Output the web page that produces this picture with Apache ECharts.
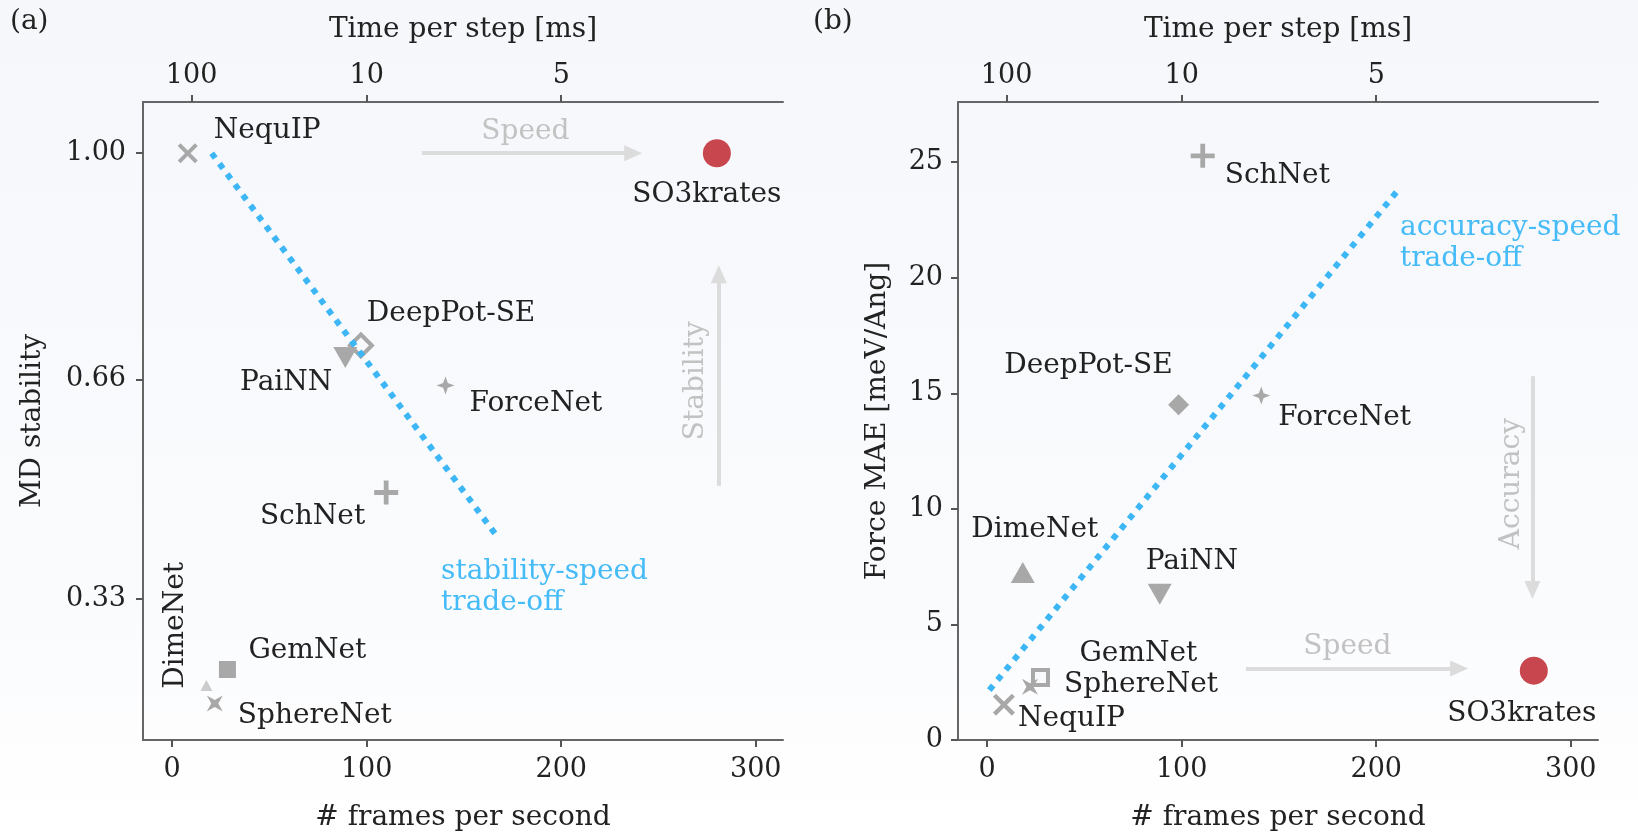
<!DOCTYPE html>
<html><head><meta charset="utf-8">
<script src="https://cdn.jsdelivr.net/npm/echarts@6/dist/echarts.min.js"></script>
<style>html,body{margin:0;padding:0;background:#fff}#c{width:1638px;height:839px}</style>
</head><body><div id="c"></div>
<script>
// ---------------- data ----------------
const models = ['NequIP','SO3krates','DeepPot-SE','PaiNN','ForceNet','SchNet','GemNet','DimeNet','SphereNet'];
// panel (a)
const fpsA = [8, 280, 97, 89, 140.5, 110, 28.4, 17.6, 21.9];
const mdStability = [1.00, 1.00, 0.711, 0.693, 0.651, 0.49, 0.224, 0.20, 0.173];
// panel (b)
const fpsB = [8.6, 281, 98.4, 88.7, 140.9, 110.8, 27.4, 18.3, 22.0];
const forceMAE = [1.53, 3.0, 14.5, 6.3, 14.9, 25.27, 2.7, 7.25, 2.3];
// ticks
const fpsTicks = [0, 100, 200, 300];
const timeTickFps = [10, 100, 200];
const timeTickLabels = ['100', '10', '5'];
const stabilityTicks = [0.33, 0.66, 1.00];
const maeTicks = [0, 5, 10, 15, 20, 25];
// trade-off lines
const tradeoffA = [[20.3, 1.0], [167.8, 0.421]];
const tradeoffB = [[1.1, 2.16], [211.3, 23.8]];
// annotation arrows (data coords)
const speedArrowA = [[128.4, 1.0], [237, 1.0]];
const stabilityArrow = [[281, 0.50], [281, 0.818]];
const speedArrowB = [[133, 3.09], [242.6, 3.09]];
const accuracyArrow = [[280.3, 15.74], [280.3, 6.49]];
// annotation text anchors (data coords)
const speedTextA = [181.6, 1.0325];
const stabilityText = [269.2, 0.658];
const tradeTextA = [138.2, 0.347];
const speedTextB = [185.2, 4.04];
const accuracyText = [269.6, 11.09];
const tradeTextB = [212.2, 21.47];

// ---------------- style ----------------
const FONT = 'DejaVu Serif';
const FS = 28;
const TXT = '#222';
const GRAY = '#a8a8a8';
const BLUE = '#3db6f6';
const ARROW = '#dcdcdc';
const ARROW_TXT = '#c2c2c2';
const symX = 'path://M14,0 L50,36 L86,0 L100,14 L64,50 L100,86 L86,100 L50,64 L14,100 L0,86 L36,50 L0,14 Z';
const symPlus = 'path://M40,0 H60 V40 H100 V60 H60 V100 H40 V60 H0 V40 H40 Z';
const symStar4 = 'path://M50,0 L63,37 L100,50 L63,63 L50,100 L37,63 L0,50 L37,37 Z';
const symStarX = 'path://M0,0 L50,28 L100,0 L72,50 L100,100 L50,72 L0,100 L28,50 Z';
const symTriDown = 'path://M0,0 L100,0 L50,86 Z';

const markerA = {
  'NequIP': {symbol: symX, size: 20},
  'SO3krates': {symbol: 'circle', size: 28, color: '#c8464d'},
  'DeepPot-SE': {symbol: 'diamond', size: 22, hollow: true},
  'PaiNN': {symbol: symTriDown, size: [24, 21]},
  'ForceNet': {symbol: symStar4, size: 18},
  'SchNet': {symbol: symPlus, size: 24},
  'GemNet': {symbol: 'rect', size: 17},
  'DimeNet': {symbol: 'triangle', size: [12, 11], color: '#cccccc'},
  'SphereNet': {symbol: symStarX, size: 16}
};
const markerB = {
  'NequIP': {symbol: symX, size: 22},
  'SO3krates': {symbol: 'circle', size: 28, color: '#c8464d'},
  'DeepPot-SE': {symbol: 'diamond', size: 21},
  'PaiNN': {symbol: symTriDown, size: [24, 21]},
  'ForceNet': {symbol: symStar4, size: 18},
  'SchNet': {symbol: symPlus, size: 24},
  'GemNet': {symbol: 'rect', size: 15, hollow: true},
  'DimeNet': {symbol: 'triangle', size: [24, 21]},
  'SphereNet': {symbol: symStarX, size: 16}
};
const labelA = {
  'NequIP': {align: 'left', offset: [26, -23]},
  'SO3krates': {align: 'center', offset: [-10, 41]},
  'DeepPot-SE': {align: 'left', offset: [6, -32]},
  'PaiNN': {align: 'right', offset: [-13, 25]},
  'ForceNet': {align: 'left', offset: [24, 18]},
  'SchNet': {align: 'right', offset: [-21, 24]},
  'GemNet': {align: 'left', offset: [21, -19]},
  // offset of a rotated label is given in the label's rotated frame
  'DimeNet': {align: 'center', offset: [60, -31], rotate: 90},
  'SphereNet': {align: 'left', offset: [23, 12]}
};
const labelB = {
  'NequIP': {align: 'left', offset: [14, 14]},
  'SO3krates': {align: 'center', offset: [-12, 43]},
  'DeepPot-SE': {align: 'right', offset: [-6, -39]},
  'PaiNN': {align: 'left', offset: [-14, -33]},
  'ForceNet': {align: 'left', offset: [17, 22]},
  'SchNet': {align: 'left', offset: [22, 20]},
  'GemNet': {align: 'left', offset: [39, -24]},
  'DimeNet': {align: 'center', offset: [12, -43]},
  'SphereNet': {align: 'left', offset: [34, -2]}
};

function textStyle(extra) {
  return Object.assign({fontFamily: FONT, fontSize: FS, color: TXT}, extra || {});
}

function pointsSeries(gi, xs, ys, markers, labels) {
  const data = models.map((m, i) => {
    const mk = markers[m], lb = labels[m];
    const itemStyle = mk.hollow
      ? {color: 'rgba(248,249,252,1)', borderColor: GRAY, borderWidth: 4, opacity: 1}
      : {color: mk.color || GRAY, borderWidth: 0, opacity: 1};
    return {
      name: m,
      value: [xs[i], ys[i]],
      symbol: mk.symbol,
      symbolSize: mk.size,
      itemStyle: itemStyle,
      label: Object.assign({
        show: true, position: 'inside', formatter: m, opacity: 1,
        verticalAlign: 'middle', textBorderWidth: 0
      }, textStyle(), lb)
    };
  });
  return {type: 'scatter', xAxisIndex: gi * 2, yAxisIndex: gi, data: data, z: 3, silent: true,
          itemStyle: {opacity: 1}};
}

function tradeSeries(gi, pts) {
  return {
    type: 'line', xAxisIndex: gi * 2, yAxisIndex: gi, data: pts, symbol: 'none', z: 5, silent: true,
    lineStyle: {color: BLUE, width: 6, type: [6, 7], cap: 'butt'}
  };
}

function annotSeries(gi, arrows, texts) {
  return {
    type: 'scatter', xAxisIndex: gi * 2, yAxisIndex: gi, symbolSize: 0, silent: true, z: 2,
    itemStyle: {opacity: 1},
    data: texts.map(t => ({
      value: t.at,
      label: Object.assign({
        show: true, position: 'inside', formatter: t.text, align: t.align || 'center', opacity: 1,
        verticalAlign: 'middle', rotate: t.rotate || 0, lineHeight: 31, textBorderWidth: 0
      }, textStyle({color: t.color}))
    })),
    markLine: {
      silent: true, symbol: ['none', 'triangle'], symbolSize: [16, 18], animation: false,
      label: {show: false},
      lineStyle: {color: ARROW, width: 4, type: 'solid', opacity: 1},
      emphasis: {disabled: true},
      data: arrows.map(a => [{coord: a[0]}, {coord: a[1]}])
    }
  };
}

function xAxes(gi) {
  const axisLine = {show: true, onZero: false, lineStyle: {color: '#666', width: 2}};
  const tick = (vals) => ({show: true, customValues: vals, length: 7, inside: false, lineStyle: {color: '#555', width: 2}});
  return [
    {
      gridIndex: gi, type: 'value', position: 'bottom', min: -15, max: 314,
      axisLine: axisLine, axisTick: tick(fpsTicks), splitLine: {show: false},
      axisLabel: Object.assign({customValues: fpsTicks, margin: 16}, textStyle({fontSize: 27})),
      name: '# frames per second', nameLocation: 'middle', nameGap: 64, nameTextStyle: textStyle()
    },
    {
      gridIndex: gi, type: 'value', position: 'top', min: -15, max: 314,
      axisLine: axisLine, axisTick: tick(timeTickFps), splitLine: {show: false},
      axisLabel: Object.assign({
        customValues: timeTickFps, margin: 13,
        formatter: v => timeTickLabels[timeTickFps.indexOf(v)]
      }, textStyle({fontSize: 27})),
      name: 'Time per step [ms]', nameLocation: 'middle', nameGap: 58, nameTextStyle: textStyle()
    }
  ];
}

const yAxisStyle = {
  axisLine: {show: true, onZero: false, lineStyle: {color: '#666', width: 2}},
  splitLine: {show: false}
};

const option = {
  animation: false,
  backgroundColor: {type: 'linear', x: 0, y: 0, x2: 0, y2: 1,
    colorStops: [{offset: 0, color: '#f5f7fb'}, {offset: 0.7, color: '#fafbfd'}, {offset: 1, color: '#ffffff'}]},
  grid: [
    {left: 143, top: 102, width: 640, height: 638},
    {left: 958, top: 102, width: 640, height: 638}
  ],
  xAxis: xAxes(0).concat(xAxes(1)),
  yAxis: [
    Object.assign({
      gridIndex: 0, type: 'value', min: 0.118, max: 1.077,
      axisTick: {show: true, customValues: stabilityTicks, length: 7, lineStyle: {color: '#555', width: 2}},
      axisLabel: Object.assign({customValues: stabilityTicks, margin: 17, formatter: v => v.toFixed(2)}, textStyle({fontSize: 27})),
      name: 'MD stability', nameLocation: 'middle', nameGap: 96, nameTextStyle: textStyle()
    }, yAxisStyle),
    Object.assign({
      gridIndex: 1, type: 'value', min: 0, max: 27.6,
      axisTick: {show: true, customValues: maeTicks, length: 7, lineStyle: {color: '#555', width: 2}},
      axisLabel: Object.assign({customValues: maeTicks, margin: 15}, textStyle({fontSize: 27})),
      name: 'Force MAE [meV/Ang]', nameLocation: 'middle', nameGap: 66, nameTextStyle: textStyle()
    }, yAxisStyle)
  ],
  graphic: [
    {type: 'text', left: 10, top: 8, style: {text: '(a)', font: FS + 'px "' + FONT + '"', fill: TXT}},
    {type: 'text', left: 813, top: 8, style: {text: '(b)', font: FS + 'px "' + FONT + '"', fill: TXT}}
  ],
  series: [
    annotSeries(0, [speedArrowA, stabilityArrow], [
      {text: 'Speed', at: speedTextA, color: ARROW_TXT},
      {text: 'Stability', at: stabilityText, color: ARROW_TXT, rotate: 90},
      {text: 'stability-speed\ntrade-off', at: tradeTextA, color: '#45bbf7', align: 'left'}
    ]),
    pointsSeries(0, fpsA, mdStability, markerA, labelA),
    tradeSeries(0, tradeoffA),
    annotSeries(1, [speedArrowB, accuracyArrow], [
      {text: 'Speed', at: speedTextB, color: ARROW_TXT},
      {text: 'Accuracy', at: accuracyText, color: ARROW_TXT, rotate: 90},
      {text: 'accuracy-speed\ntrade-off', at: tradeTextB, color: '#45bbf7', align: 'left'}
    ]),
    pointsSeries(1, fpsB, forceMAE, markerB, labelB),
    tradeSeries(1, tradeoffB)
  ]
};

const chart = echarts.init(document.getElementById('c'), null, {renderer: 'canvas'});
chart.setOption(option);
</script>
</body></html>
